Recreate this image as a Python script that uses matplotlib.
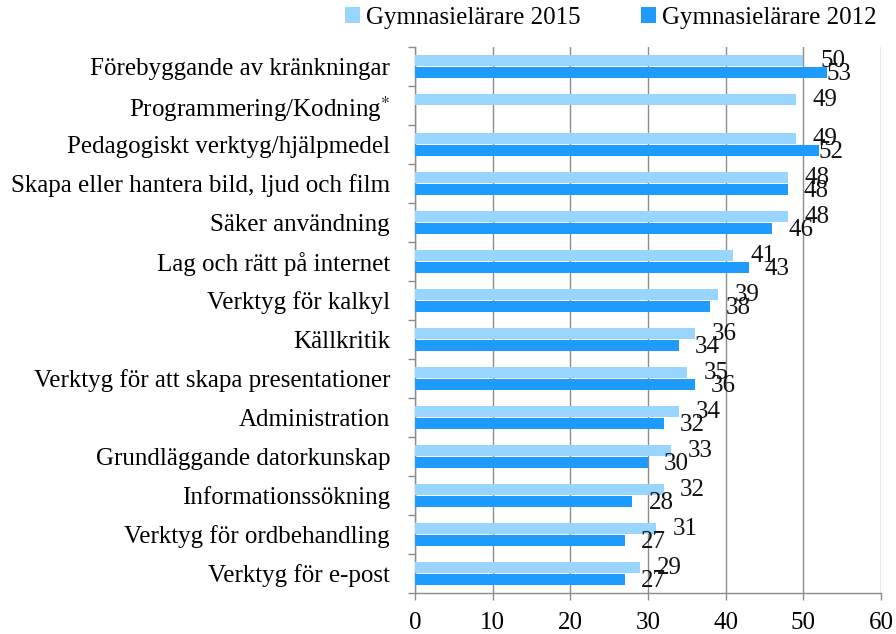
import matplotlib
matplotlib.use("Agg")
import matplotlib.pyplot as plt
import numpy as np

categories = [
    "Förebyggande av kränkningar",
    "Programmering/Kodning$^{*}$",
    "Pedagogiskt verktyg/hjälpmedel",
    "Skapa eller hantera bild, ljud och film",
    "Säker användning",
    "Lag och rätt på internet",
    "Verktyg för kalkyl",
    "Källkritik",
    "Verktyg för att skapa presentationer",
    "Administration",
    "Grundläggande datorkunskap",
    "Informationssökning",
    "Verktyg för ordbehandling",
    "Verktyg för e-post",
]
values_2015 = [50, 49, 49, 48, 48, 41, 39, 36, 35, 34, 33, 32, 31, 29]
values_2012 = [53, np.nan, 52, 48, 46, 43, 38, 34, 36, 32, 30, 28, 27, 27]
series_names = ["Gymnasielärare 2015", "Gymnasielärare 2012"]
xticks = [0, 10, 20, 30, 40, 50, 60]

plt.rcParams['font.family'] = ['Liberation Serif', 'DejaVu Serif']
plt.rcParams['mathtext.fontset'] = 'stix'

c15 = '#99D6FF'
c12 = '#1E9BFF'
fs = 18

fig = plt.figure(figsize=(8.96, 6.34), dpi=100)
ax = fig.add_axes([415/896, 1-593/634, 466/896, 546/634])

n = len(categories)
y = np.arange(n)
h = 0.29
off = 0.148
b15 = ax.barh(y - off, values_2015, height=h, color=c15, label=series_names[0], zorder=3)
b12 = ax.barh(y + off, values_2012, height=h, color=c12, label=series_names[1], zorder=3)

for yi, v in zip(y, values_2015):
    ax.annotate(f"{v:g}", xy=(v, yi - off), xytext=(12, 0), textcoords='offset points',
                ha='left', va='center', fontsize=fs, color='#111111', zorder=4)
for yi, v in zip(y, values_2012):
    if np.isnan(v):
        continue
    dx = 0 if v > 50 else 11.5
    ax.annotate(f"{v:g}", xy=(v, yi + off + 0.04), xytext=(dx, 0), textcoords='offset points',
                ha='left', va='center', fontsize=fs, color='#111111', zorder=4)

ax.set_xlim(0, 60)
ax.set_ylim(n - 0.5, -0.5)
ax.set_xticks(xticks)
ax.set_xticklabels([str(t) for t in xticks], fontsize=fs)
ax.set_yticks(y)
ax.set_yticklabels(categories, fontsize=fs)
ax.set_yticks(np.arange(-0.5, n, 1), minor=True)
ax.tick_params(axis='y', which='major', length=0, pad=18)
ax.tick_params(axis='y', which='minor', length=5, color='#8c8c8c', width=1)
ax.tick_params(axis='x', which='major', length=5, color='#8c8c8c', width=1, pad=9)
ax.grid(axis='x', color='#8c8c8c', linewidth=1, zorder=0)
for s in ['top', 'right']:
    ax.spines[s].set_visible(False)
for s in ['left', 'bottom']:
    ax.spines[s].set_color('#8c8c8c')
    ax.spines[s].set_linewidth(1)

fig.legend(handles=[b15, b12], loc='center', bbox_to_anchor=(611/896, 1-18/634),
           ncol=2, frameon=False, fontsize=fs, handlelength=0.6, handleheight=0.6,
           handletextpad=0.25, columnspacing=2.4, borderaxespad=0)

fig.savefig("out.png", dpi=100)
